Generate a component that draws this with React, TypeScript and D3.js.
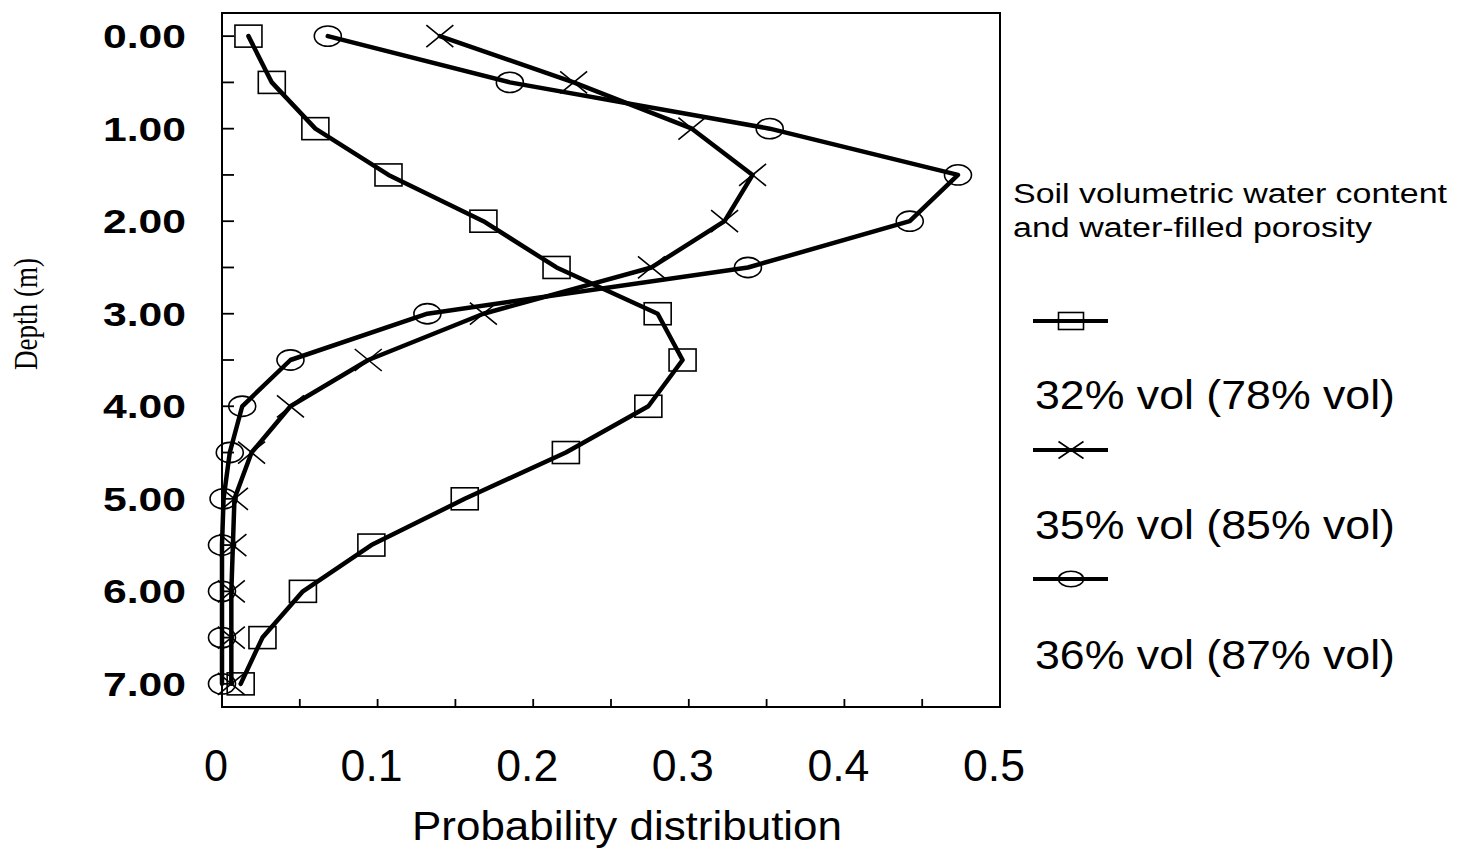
import React from 'react';
import * as d3 from 'd3';

// depth (m) of each sample, top to bottom
const depths = [0, 0.5, 1, 1.5, 2, 2.5, 3, 3.5, 4, 4.5, 5, 5.5, 6, 6.5, 7];

// probability distribution per water content scenario
const vol32 = [0.017, 0.032, 0.06, 0.107, 0.168, 0.215, 0.28, 0.296, 0.274, 0.221, 0.156, 0.096, 0.052, 0.026, 0.012];
const vol35 = [0.14, 0.226, 0.302, 0.341, 0.323, 0.276, 0.168, 0.094, 0.044, 0.019, 0.008, 0.007, 0.006, 0.006, 0.006];
const vol36 = [0.068, 0.185, 0.352, 0.473, 0.442, 0.338, 0.132, 0.044, 0.013, 0.005, 0.001, 0, 0, 0, 0];

const seriesNames = ['32% vol (78% vol)', '35% vol (85% vol)', '36% vol (87% vol)'];
const seriesMarkers = ['square', 'cross', 'circle'];

const xTicks = [0, 0.1, 0.2, 0.3, 0.4, 0.5];
const yTickLabels = [0, 1, 2, 3, 4, 5, 6, 7];

const W = 1468;
const H = 852;

function Marker({ kind, x, y, w = 13.5, h = 11 }: { kind: string; x: number; y: number; w?: number; h?: number }) {
  if (kind === 'square') {
    return <rect x={x - w} y={y - h} width={w * 2} height={h * 2} fill="none" stroke="#000" strokeWidth={1.6} />;
  }
  if (kind === 'circle') {
    return <ellipse cx={x} cy={y} rx={w} ry={h * 0.92} fill="none" stroke="#000" strokeWidth={1.6} />;
  }
  return (
    <path
      d={`M${x - w},${y - h}L${x + w},${y + h}M${x - w},${y + h}L${x + w},${y - h}`}
      fill="none"
      stroke="#000"
      strokeWidth={1.6}
    />
  );
}

export default function App() {
  const x = d3.scaleLinear().domain([0, 0.5]).range([222, 1000]);
  const y = d3.scaleLinear().domain([-0.25, 7.25]).range([13, 707]);

  const series = [vol32, vol35, vol36];
  const line = d3
    .line<number>()
    .x(d => x(d))
    .y((_, i) => y(depths[i]));

  const xMinor = d3.range(0, 0.5001, 0.05);
  const yMinor = d3.range(0, 7.001, 0.5);

  const sans = '"Liberation Sans", Arial, sans-serif';

  return (
    <svg width={W} height={H} style={{ display: 'block', position: 'absolute', left: 0, top: 0, background: '#fff' }}>
      {/* frame */}
      <rect x={x(0)} y={y(-0.25)} width={x(0.5) - x(0)} height={y(7.25) - y(-0.25)} fill="none" stroke="#000" strokeWidth={2} />

      {/* ticks inside frame */}
      {yMinor.map(d => (
        <line key={'yt' + d} x1={x(0)} x2={x(0) + 12} y1={y(d)} y2={y(d)} stroke="#000" strokeWidth={1.8} />
      ))}
      {xMinor.map(d => (
        <line key={'xt' + d} x1={x(d)} x2={x(d)} y1={y(7.25)} y2={y(7.25) - 8} stroke="#000" strokeWidth={1.8} />
      ))}

      {/* y tick labels */}
      {yTickLabels.map(d => (
        <text
          key={'yl' + d}
          x={186}
          y={y(d) + 12}
          textAnchor="end"
          fontFamily={sans}
          fontWeight="bold"
          fontSize={34}
          textLength={83}
          lengthAdjust="spacingAndGlyphs"
        >
          {d.toFixed(2)}
        </text>
      ))}

      {/* x tick labels */}
      {xTicks.map(d => (
        <text key={'xl' + d} x={x(d) - 6} y={781} textAnchor="middle" fontFamily={sans} fontSize={44} textLength={d === 0 ? 24 : 62} lengthAdjust="spacingAndGlyphs">
          {d === 0 ? '0' : String(d)}
        </text>
      ))}

      {/* axis titles */}
      <text x={627} y={840} textAnchor="middle" fontFamily={sans} fontSize={40} textLength={430} lengthAdjust="spacingAndGlyphs">
        Probability distribution
      </text>
      <text
        transform={`translate(37,314) rotate(-90)`}
        textAnchor="middle"
        fontFamily='"Liberation Serif", "Times New Roman", serif'
        fontSize={34}
        textLength={112}
        lengthAdjust="spacingAndGlyphs"
      >
        Depth (m)
      </text>

      {/* data lines */}
      {series.map((s, i) => (
        <path key={'ln' + i} d={line(s) || ''} fill="none" stroke="#000" strokeWidth={4.5} strokeLinejoin="round" strokeLinecap="round" />
      ))}

      {/* markers */}
      {series.map((s, i) =>
        s.map((v, j) => <Marker key={`m${i}-${j}`} kind={seriesMarkers[i]} x={x(v)} y={y(depths[j])} />)
      )}

      {/* legend */}
      <text x={1013} y={203} fontFamily={sans} fontSize={27} textLength={434} lengthAdjust="spacingAndGlyphs">
        Soil volumetric water content
      </text>
      <text x={1013} y={237} fontFamily={sans} fontSize={27} textLength={359} lengthAdjust="spacingAndGlyphs">
        and water-filled porosity
      </text>
      {seriesNames.map((name, i) => {
        const ly = 321 + i * 129;
        return (
          <g key={'lg' + i}>
            <line x1={1033} x2={1108} y1={ly} y2={ly} stroke="#000" strokeWidth={4} />
            <Marker kind={seriesMarkers[i]} x={1071} y={ly} w={12.5} h={8.5} />
            <text x={1035} y={409 + i * 130} fontFamily={sans} fontSize={41} textLength={360} lengthAdjust="spacingAndGlyphs">
              {name}
            </text>
          </g>
        );
      })}
    </svg>
  );
}
